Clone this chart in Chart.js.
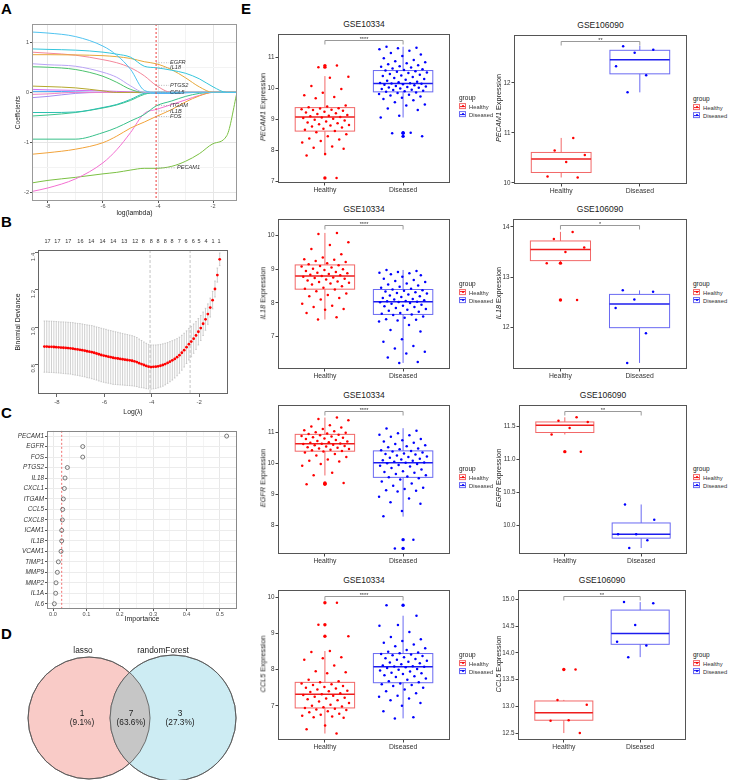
<!DOCTYPE html>
<html>
<head>
<meta charset="utf-8">
<script src="https://cdn.jsdelivr.net/npm/chart.js@4.4.0/dist/chart.umd.min.js"></script>
<style>
body{margin:0;width:729px;height:780px;position:relative;background:#fff;overflow:hidden;font-family:'Liberation Sans',Arial,Helvetica,sans-serif}
canvas{position:absolute}
.t{position:absolute;white-space:nowrap;color:#1a1a1a;line-height:1}
.key{display:inline-block;width:5px;height:4px;border:1px solid;position:relative;margin-right:3px;vertical-align:0}
.key i{position:absolute;left:0;right:0;top:1.5px;height:1px}
.key b{position:absolute;left:1.5px;top:1px;width:2px;height:2px;border-radius:1px}
</style>
</head>
<body>
<script>
// ---------- A: lasso coefficient paths ----------
const lamA = [-8.58, -8, -7, -6, -5.5, -5, -4.5, -4.07, -3.5, -3, -2.5, -2, -1.5, -1.13];
const pathG1 = [1.2, 1.18, 1.11, 0.92, 0.74, 0.46, 0.04, 0, 0, 0, 0, 0, 0, 0];
const pathIL18 = [0.865, 0.855, 0.84, 0.8, 0.76, 0.7, 0.52, 0.49, 0.44, 0.38, 0.27, 0.11, 0, 0];
const pathEGFR = [0.75, 0.75, 0.745, 0.73, 0.71, 0.675, 0.61, 0.57, 0.45, 0.29, 0.11, 0, 0, 0];
const pathPTGS2 = [0.8, 0.78, 0.74, 0.65, 0.59, 0.49, 0.33, 0.14, 0, 0, 0, 0, 0, 0];
const pathG5 = [0.57, 0.55, 0.52, 0.4, 0.3, 0.13, 0, 0, 0, 0, 0, 0, 0, 0];
const pathG6 = [0.51, 0.5, 0.455, 0.32, 0.2, 0.06, 0, 0, 0, 0, 0, 0, 0, 0];
const pathG7 = [0.125, 0.115, 0.09, 0.03, 0, 0, 0, 0, 0, 0, 0, 0, 0, 0];
const pathG8 = [0.06, 0.05, 0.04, 0.03, 0.02, 0.01, 0, 0, 0, 0, 0, 0, 0, 0];
const pathG9 = [-0.04, -0.03, 0, 0, 0, 0, 0, 0, 0, 0, 0, 0, 0, 0];
const pathG10 = [-0.105, -0.08, -0.02, 0, 0, 0, 0, 0, 0, 0, 0, 0, 0, 0];
const pathG11 = [-0.4, -0.4, -0.39, -0.3, -0.24, -0.14, -0.02, 0, 0, 0, 0, 0, 0, 0];
const pathG12 = [-0.47, -0.45, -0.4, -0.31, -0.25, -0.16, -0.04, 0, 0, 0, 0, 0, 0, 0];
const pathITGAM = [-0.93, -0.93, -0.93, -0.8, -0.7, -0.57, -0.44, -0.27, -0.17, -0.08, -0.02, 0, 0, 0];
const pathFOS = [-1.23, -1.2, -1.13, -1.0, -0.87, -0.71, -0.59, -0.48, -0.34, -0.19, -0.07, 0, 0, 0];
const pathIL1B = [-1.97, -1.9, -1.72, -1.4, -1.14, -0.8, -0.42, -0.34, -0.24, -0.15, -0.06, 0, 0, 0];
const pathPECAM1 = [-1.8, -1.75, -1.69, -1.62, -1.59, -1.545, -1.51, -1.51, -1.47, -1.37, -1.22, -1.02, -0.86, 0];
const pathCCL5 = [0.02, 0.02, 0.01, 0, 0, 0, -0.01, -0.02, -0.02, -0.01, 0, 0, 0, 0];
const aLabels = ['EGFR', 'IL18', 'PTGS2', 'CCL5', 'ITGAM', 'IL1B', 'FOS', 'PECAM1'];
const aLabelY = [0.59, 0.49, 0.14, 0.0, -0.26, -0.37, -0.48, -1.5];
const aLambdaMin = -4.07;

// ---------- B: cross-validation deviance ----------
const bLam = [-8.53,-8.43,-8.33,-8.23,-8.13,-8.03,-7.93,-7.83,-7.73,-7.63,-7.53,
  -7.43,-7.33,-7.23,-7.13,-7.03,-6.93,-6.83,-6.73,-6.63,-6.53,
  -6.43,-6.33,-6.23,-6.13,-6.03,-5.93,-5.83,-5.73,-5.63,-5.53,
  -5.43,-5.33,-5.23,-5.13,-5.03,-4.93,-4.83,-4.73,-4.63,-4.53,
  -4.43,-4.33,-4.23,-4.13,-4.03,-3.93,-3.83,-3.73,-3.63,-3.53,
  -3.43,-3.33,-3.23,-3.13,-3.03,-2.93,-2.83,-2.73,-2.63,-2.53,
  -2.43,-2.33,-2.23,-2.13,-2.03,-1.93,-1.83,-1.73,-1.63,-1.53,
  -1.43,-1.33,-1.23,-1.13];
const bDev = [.895,.895,.894,.894,.893,.892,.891,.890,.889,.888,.887,
  .886,.884,.882,.880,.878,.876,.873,.870,.868,.865,
  .862,.858,.854,.850,.847,.844,.841,.838,.835,.833,
  .831,.829,.827,.825,.823,.821,.819,.816,.812,.806,
  .801,.796,.791,.787,.785,.786,.787,.789,.792,.796,
  .801,.807,.814,.821,.829,.838,.849,.862,.876,.892,
  .908,.922,.938,.955,.975,.995,1.018,1.042,1.07,1.105,
  1.145,1.205,1.28,1.365];
const bSe = [.138,.138,.138,.138,.138,.138,.138,.138,.139,.139,.139,
  .139,.140,.140,.140,.141,.141,.141,.142,.142,.143,
  .143,.143,.144,.144,.144,.144,.143,.143,.143,.142,
  .141,.140,.139,.138,.137,.136,.135,.134,.132,.130,
  .127,.124,.122,.120,.119,.118,.117,.116,.115,.114,
  .112,.110,.108,.106,.103,.100,.097,.094,.091,.088,
  .085,.082,.079,.075,.071,.067,.063,.059,.055,.051,
  .047,.043,.038,.034];
const bTopLam = [-8.40,-7.98,-7.52,-7.01,-6.55,-6.08,-5.62,-5.16,-4.69,-4.36,-4.02,-3.73,-3.43,-3.14,-2.84,-2.55,-2.25,-2.0,-1.71,-1.41,-1.16];
const bTopCount = [17,17,17,16,14,14,14,13,12,8,8,8,8,8,7,6,6,5,4,1,1];
const bLamMin = -4.07;
const bLam1se = -2.38;

// ---------- C: random forest importance ----------
const cGenes = ['PECAM1','EGFR','FOS','PTGS2','IL18','CXCL1','ITGAM','CCL5','CXCL8','ICAM1','IL1B','VCAM1','TIMP1','MMP9','MMP2','IL1A','IL6'];
const cImportance = [0.52,0.089,0.089,0.043,0.036,0.034,0.031,0.029,0.028,0.026,0.026,0.024,0.016,0.013,0.009,0.008,0.004];
const cCut = 0.026;

// ---------- D: Venn ----------
const vennSets = ['lasso', 'randomForest'];
const vennCounts = [1, 7, 3];
const vennPct = ['9.1%', '63.6%', '27.3%'];

// ---------- E: expression box plots ----------
const eGenes = ['PECAM1', 'IL18', 'EGFR', 'CCL5'];
const eSets = ['GSE10334', 'GSE106090'];
const eGroups = ['Healthy', 'Diseased'];
const eSig10334 = ['****', '****', '****', '****'];
const eSig106090 = ['**', '*', '**', '**'];

const pecam10334H = [10.74,10.69,10.38,10.35,10.08,9.98,9.86,9.78,9.72,9.68,9.45,9.42,9.39,9.36,9.35,9.33,9.31,9.30,9.28,9.25,9.22,9.20,9.17,9.14,9.12,9.10,9.08,9.06,9.04,9.02,8.99,8.96,8.93,8.90,8.87,8.84,8.82,8.80,8.77,8.74,8.70,8.66,8.62,8.58,8.52,8.45,8.38,8.35,8.30,8.25,8.12,8.08,8.05,7.88,7.83,7.10];
const pecam10334D = [11.35,11.32,11.30,11.27,11.22,11.15,11.10,11.05,10.98,10.92,10.88,10.85,10.82,10.78,10.75,10.72,10.70,10.68,10.65,10.62,10.60,10.58,10.56,10.54,10.52,10.50,10.47,10.44,10.42,10.40,10.37,10.34,10.31,10.28,10.25,10.22,10.20,10.18,10.17,10.16,10.15,10.14,10.12,10.10,10.08,10.06,10.05,10.03,10.02,10.00,9.98,9.96,9.95,9.93,9.91,9.89,9.87,9.85,9.82,9.80,9.77,9.74,9.70,9.66,9.62,9.55,9.48,9.45,9.35,9.30,9.12,9.06,8.57,8.55,8.45];
const il18_10334H = [10.08,10.05,9.80,9.72,9.60,9.45,9.35,9.30,9.28,9.25,9.22,9.18,9.15,9.12,9.10,9.08,9.05,9.02,9.00,8.98,8.95,8.92,8.90,8.88,8.86,8.84,8.82,8.80,8.78,8.76,8.74,8.72,8.70,8.67,8.64,8.62,8.60,8.58,8.55,8.50,8.45,8.42,8.40,8.35,8.28,8.24,8.20,8.15,8.10,7.98,7.92,7.88,7.82,7.80,7.70,7.58,7.51];
const il18_10334D = [8.98,8.95,8.92,8.90,8.88,8.85,8.82,8.78,8.72,8.68,8.65,8.62,8.58,8.55,8.52,8.48,8.45,8.42,8.40,8.38,8.36,8.34,8.32,8.30,8.28,8.25,8.22,8.20,8.18,8.15,8.12,8.10,8.08,8.06,8.05,8.04,8.03,8.02,8.00,7.98,7.95,7.92,7.90,7.88,7.85,7.82,7.80,7.77,7.74,7.70,7.68,7.66,7.64,7.60,7.56,7.52,7.50,7.48,7.45,7.35,7.20,7.15,6.92,6.85,6.72,6.65,6.55,6.50,6.38,6.25,6.22];
const egfr10334H = [11.47,11.42,11.38,11.22,11.18,11.15,11.10,11.06,11.03,11.00,10.98,10.96,10.94,10.92,10.90,10.88,10.86,10.84,10.82,10.80,10.78,10.75,10.72,10.70,10.68,10.66,10.64,10.63,10.62,10.60,10.58,10.56,10.54,10.52,10.50,10.48,10.46,10.44,10.42,10.40,10.38,10.35,10.30,10.25,10.20,10.12,10.08,10.06,9.98,9.92,9.70,9.62,9.37,9.35,9.33];
const egfr10334D = [11.12,11.05,10.97,10.92,10.90,10.85,10.78,10.74,10.70,10.66,10.62,10.58,10.55,10.52,10.48,10.45,10.42,10.40,10.38,10.35,10.32,10.30,10.28,10.25,10.22,10.20,10.18,10.15,10.12,10.10,10.08,10.05,10.03,10.02,10.00,9.98,9.95,9.92,9.90,9.85,9.80,9.75,9.72,9.70,9.66,9.62,9.58,9.55,9.52,9.48,9.42,9.35,9.28,9.22,9.18,9.14,9.12,9.10,8.93,8.87,8.75,8.70,8.47,8.30,7.55,7.27];
const ccl5_10334H = [9.86,9.25,8.93,8.52,8.49,8.35,8.32,8.28,8.12,7.96,7.93,7.90,7.72,7.68,7.65,7.62,7.60,7.58,7.55,7.52,7.50,7.48,7.45,7.42,7.40,7.38,7.35,7.32,7.30,7.28,7.25,7.22,7.20,7.18,7.15,7.12,7.08,7.03,7.00,6.98,6.96,6.94,6.92,6.90,6.88,6.85,6.82,6.78,6.75,6.72,6.70,6.68,6.67,6.45,6.35,6.23];
const ccl5_10334D = [9.79,9.50,9.24,9.22,9.05,8.91,8.85,8.80,8.75,8.70,8.65,8.60,8.55,8.50,8.48,8.46,8.44,8.42,8.40,8.38,8.35,8.32,8.30,8.28,8.25,8.22,8.20,8.18,8.15,8.12,8.10,8.09,8.08,8.07,8.05,8.02,8.00,7.98,7.95,7.92,7.90,7.88,7.85,7.82,7.80,7.76,7.72,7.68,7.65,7.62,7.60,7.58,7.55,7.50,7.45,7.40,7.35,7.28,7.25,7.20,7.15,7.08,7.00,6.85,6.68,6.65];

const pecam106090H = [10.90,10.65,10.56,10.42,10.13,10.11];
const pecam106090D = [12.73,12.66,12.60,12.33,12.15,11.81];
const il18_106090H = [13.90,13.76,13.59,13.50,13.28,12.55];
const il18_106090D = [12.74,12.71,12.56,12.39,11.89,11.30];
const egfr106090H = [11.64,11.59,11.57,11.48,11.38,11.12];
const egfr106090D = [10.32,10.09,9.87,9.87,9.78,9.66];
const ccl5_106090H = [13.69,13.12,13.03,12.74,12.73,12.50];
const ccl5_106090D = [14.95,14.93,14.52,14.21,14.14,13.92];

// box stats: [lower whisker, Q1, median, Q3, upper whisker]
const statPecam10334 = [[7.83,8.62,9.08,9.38,10.40],[9.06,9.89,10.16,10.58,11.35]];
const statIl18_10334 = [[7.51,8.41,8.80,9.13,10.08],[6.22,7.66,8.04,8.40,8.98]];
const statEgfr10334 = [[9.61,10.39,10.63,10.93,11.47],[8.29,9.55,10.02,10.40,11.13]];
const statCcl5_10334 = [[6.23,6.94,7.32,7.65,8.52],[6.65,7.64,8.08,8.45,9.50]];
const statPecam106090 = [[10.11,10.21,10.48,10.61,10.90],[11.81,12.18,12.46,12.65,12.74]];
const statIl18_106090 = [[13.29,13.33,13.55,13.72,13.90],[11.30,12.00,12.47,12.66,12.74]];
const statEgfr106090 = [[11.38,11.41,11.52,11.57,11.64],[9.66,9.81,9.87,10.04,10.32]];
const statCcl5_106090 = [[12.50,12.74,12.88,13.10,13.12],[13.92,14.16,14.36,14.80,14.95]];

// ---------- setup ----------
const FONT = "'Liberation Sans', Arial, Helvetica, sans-serif";
Chart.defaults.font.family = FONT;
Chart.defaults.color = '#4d4d4d';
Chart.defaults.animation = false;
Chart.defaults.responsive = false;
Chart.defaults.plugins.legend.display = false;
Chart.defaults.plugins.tooltip.enabled = false;

Chart.register({
  id: 'panelBox',
  afterDraw(chart, args, opts) {
    if (!opts.color) return;
    const a = chart.chartArea, ctx = chart.ctx;
    ctx.save();
    ctx.strokeStyle = opts.color;
    ctx.lineWidth = 1;
    ctx.strokeRect(Math.round(a.left) + 0.5, Math.round(a.top) + 0.5, Math.round(a.right - a.left) - 1, Math.round(a.bottom - a.top) - 1);
    ctx.restore();
  }
});

function mk(box, area) {
  const c = document.createElement('canvas');
  c.width = box.w; c.height = box.h;
  c.style.left = box.x + 'px'; c.style.top = box.y + 'px';
  c.style.width = box.w + 'px'; c.style.height = box.h + 'px';
  document.body.appendChild(c);
  return {
    el: c,
    pad: {left: 0, top: area.t - box.y, right: box.x + box.w - area.r, bottom: 0},
    yw: area.l - box.x,
    xh: box.y + box.h - area.b
  };
}

function put(html, x, y, css, tf) {
  const d = document.createElement('div');
  d.className = 't';
  d.innerHTML = html;
  d.style.cssText += css || '';
  d.style.left = x + 'px';
  d.style.top = y + 'px';
  d.style.transform = tf || 'translate(-50%,-50%)';
  document.body.appendChild(d);
  return d;
}

function seg(ctx, x1, y1, x2, y2) {
  ctx.beginPath(); ctx.moveTo(x1, y1); ctx.lineTo(x2, y2); ctx.stroke();
}

// panel letters
const letterCss = 'font-size:15px;font-weight:bold;color:#000';
put('A', 1, 1, letterCss, 'none');
put('B', 1, 214, letterCss, 'none');
put('C', 1, 405, letterCss, 'none');
put('D', 1, 626, letterCss, 'none');
put('E', 241, 1, letterCss, 'none');

// ---------- A ----------
const pathsA = [
  [pathG1, '#4fc3f0'], [pathIL18, '#35c6dc'], [pathEGFR, '#e7a83a'], [pathPTGS2, '#f4869a'],
  [pathG5, '#b9a3f5'], [pathG6, '#4cc26e'], [pathG7, '#b5a72b'], [pathG8, '#d26cf0'],
  [pathG9, '#f080c8'], [pathG10, '#a58cf0'], [pathG11, '#2bbfb0'], [pathG12, '#3cc48d'],
  [pathITGAM, '#38c08a'], [pathFOS, '#f2a33a'], [pathIL1B, '#f36fd1'], [pathPECAM1, '#7bc043'],
  [pathCCL5, '#3fa9f5']
];
const fa = mk({x: 0, y: 16, w: 240, h: 205}, {l: 32, t: 24, r: 237, b: 201});
new Chart(fa.el, {
  type: 'line',
  data: {
    datasets: pathsA.map(([vals, col]) => ({
      data: lamA.map((x, i) => ({x: x, y: vals[i]})),
      borderColor: col, borderWidth: 1, pointRadius: 0, cubicInterpolationMode: 'monotone', fill: false
    }))
  },
  options: {
    layout: {padding: fa.pad, autoPadding: false},
    scales: {
      x: {
        type: 'linear', min: -8.58, max: -1.13,
        afterFit: s => { s.height = fa.xh; },
        ticks: {stepSize: 1, includeBounds: false, callback: v => (v % 2 === 0 ? v : ''), font: {size: 5.5}, padding: 0, maxRotation: 0, autoSkip: false},
        grid: {color: c => (c.tick && c.tick.value % 2 === 0 ? '#e6e6e6' : '#f3f3f3'), tickColor: c => (c.tick && c.tick.value % 2 === 0 ? '#555' : 'rgba(0,0,0,0)'), tickLength: 2},
        border: {display: false},
        title: {display: true, text: 'log(lambda)', font: {size: 6.8}, color: '#1a1a1a', padding: {top: 0, bottom: 4}}
      },
      y: {
        min: -2.16, max: 1.36,
        afterFit: s => { s.width = fa.yw; },
        ticks: {stepSize: 0.5, includeBounds: false, callback: v => (Number.isInteger(v) ? v : ''), font: {size: 5.5}, padding: 1},
        grid: {color: c => (c.tick && Number.isInteger(c.tick.value) ? '#e6e6e6' : '#f3f3f3'), tickColor: c => (c.tick && Number.isInteger(c.tick.value) ? '#555' : 'rgba(0,0,0,0)'), tickLength: 2},
        border: {display: false},
        title: {display: true, text: 'Coefficients', font: {size: 6.3}, color: '#1a1a1a', padding: {top: 14, bottom: 0}}
      }
    },
    plugins: {panelBox: {color: '#999'}}
  },
  plugins: [{
    id: 'aLabels',
    afterDatasetsDraw(ch) {
      const {ctx, scales: {x, y}, chartArea: a} = ch;
      const x0 = x.getPixelForValue(aLambdaMin);
      ctx.save();
      ctx.strokeStyle = '#ee3b3b'; ctx.lineWidth = 1; ctx.setLineDash([2, 2]);
      seg(ctx, x0, a.top, x0, a.bottom);
      ctx.strokeStyle = '#9a9a9a'; ctx.setLineDash([1, 1.5]); ctx.lineWidth = 0.7;
      ctx.font = 'italic 5.6px ' + FONT;
      ctx.fillStyle = '#333'; ctx.textBaseline = 'middle';
      aLabels.forEach((g, i) => {
        const py = y.getPixelForValue(aLabelY[i]);
        const len = g === 'PECAM1' ? 20 : 13;
        seg(ctx, x0, py, x0 + len, py);
        ctx.fillText(g, x0 + len + 1, py);
      });
      ctx.restore();
    }
  }]
});

// ---------- B ----------
const fb = mk({x: 0, y: 234, w: 240, h: 186}, {l: 38, t: 250, r: 228, b: 394});
new Chart(fb.el, {
  type: 'scatter',
  data: {datasets: [{data: bLam.map((x, i) => ({x: x, y: bDev[i]})), backgroundColor: '#ff0000', borderWidth: 0, pointRadius: 1.4}]},
  options: {
    layout: {padding: {left: 0, top: 0, right: fb.pad.right, bottom: 0}, autoPadding: false},
    scales: {
      x: {
        type: 'linear', min: -8.8, max: -0.78,
        afterFit: s => { s.height = fb.xh; },
        ticks: {stepSize: 2, includeBounds: false, font: {size: 6}, padding: 2, maxRotation: 0},
        grid: {drawOnChartArea: false, tickLength: 3, color: '#666'},
        border: {display: false},
        title: {display: true, text: 'Log(\u03bb)', font: {size: 6.8}, color: '#1a1a1a', padding: {top: 0, bottom: 4}}
      },
      x2: {
        type: 'linear', position: 'top', min: -8.8, max: -0.78,
        afterFit: s => { s.height = 16; },
        afterBuildTicks: s => { s.ticks = bTopLam.map(v => ({value: v})); },
        ticks: {callback: (v, i) => bTopCount[i], font: {size: 5.5}, color: '#333', padding: 5, maxRotation: 0, autoSkip: false},
        grid: {display: false, drawTicks: false, tickLength: 0},
        border: {display: false}
      },
      y: {
        min: 0.64, max: 1.415,
        afterFit: s => { s.width = fb.yw; },
        ticks: {stepSize: 0.2, includeBounds: false, callback: v => v.toFixed(1), font: {size: 6}, padding: 2, minRotation: 90, maxRotation: 90},
        grid: {drawOnChartArea: false, tickLength: 3, color: '#666'},
        border: {display: false},
        title: {display: true, text: 'Binomial Deviance', font: {size: 6.9}, color: '#1a1a1a', padding: {top: 14, bottom: 0}}
      }
    },
    plugins: {panelBox: {color: '#666'}}
  },
  plugins: [{
    id: 'bErr',
    beforeDatasetsDraw(ch) {
      const {ctx, scales: {x, y}, chartArea: a} = ch;
      ctx.save();
      ctx.strokeStyle = '#aaa'; ctx.lineWidth = 0.7; ctx.setLineDash([3, 2]);
      [bLamMin, bLam1se].forEach(v => { const px = x.getPixelForValue(v); seg(ctx, px, a.top, px, a.bottom); });
      ctx.setLineDash([]);
      ctx.strokeStyle = '#b0b0b0'; ctx.lineWidth = 0.6;
      bLam.forEach((lv, i) => {
        const px = x.getPixelForValue(lv);
        const hi = y.getPixelForValue(bDev[i] + bSe[i]);
        const lo = y.getPixelForValue(bDev[i] - bSe[i]);
        seg(ctx, px, hi, px, lo);
        seg(ctx, px - 0.8, hi, px + 0.8, hi);
        seg(ctx, px - 0.8, lo, px + 0.8, lo);
      });
      ctx.restore();
    }
  }]
});

// ---------- C ----------
const fc = mk({x: 0, y: 426, w: 240, h: 200}, {l: 47, t: 430, r: 237, b: 609});
new Chart(fc.el, {
  type: 'scatter',
  data: {datasets: [{
    data: cGenes.map((g, i) => ({x: cImportance[i], y: g})),
    backgroundColor: 'rgba(0,0,0,0)', borderColor: '#444', borderWidth: 0.7, pointRadius: 2
  }]},
  options: {
    layout: {padding: fc.pad, autoPadding: false},
    scales: {
      x: {
        type: 'linear', min: -0.018, max: 0.551,
        afterFit: s => { s.height = fc.xh; },
        ticks: {stepSize: 0.05, includeBounds: false, callback: v => (Math.round(v * 100) % 10 === 0 ? v.toFixed(1) : ''), font: {size: 5.6}, padding: 0, maxRotation: 0, autoSkip: false},
        grid: {color: c => (c.tick && Math.round(c.tick.value * 100) % 10 === 0 ? '#e8e8e8' : '#f4f4f4'), tickColor: c => (c.tick && Math.round(c.tick.value * 100) % 10 === 0 ? '#555' : 'rgba(0,0,0,0)'), tickLength: 2},
        border: {display: false},
        title: {display: true, text: 'Importance', font: {size: 7}, color: '#1a1a1a', padding: {top: 0, bottom: 3}}
      },
      y: {
        type: 'category', labels: cGenes, offset: true,
        afterFit: s => { s.width = fc.yw; },
        ticks: {font: {size: 6.4, style: 'italic'}, color: '#333', padding: 1, autoSkip: false},
        grid: {color: '#ececec', tickColor: '#555', tickLength: 2},
        border: {display: false}
      }
    },
    plugins: {panelBox: {color: '#888'}}
  },
  plugins: [{
    id: 'cCut',
    beforeDatasetsDraw(ch) {
      const {ctx, scales: {x}, chartArea: a} = ch;
      const px = x.getPixelForValue(cCut);
      ctx.save();
      ctx.strokeStyle = '#f07070'; ctx.lineWidth = 1; ctx.setLineDash([2, 2]);
      seg(ctx, px, a.top, px, a.bottom);
      ctx.restore();
    }
  }]
});

// ---------- D ----------
const fd = mk({x: 0, y: 640, w: 240, h: 140}, {l: 0, t: 656, r: 240, b: 780});
new Chart(fd.el, {
  type: 'scatter',
  data: {datasets: [{
    data: vennSets.map((s, i) => ({x: i, y: 0})),
    backgroundColor: ['#f9cbc7', '#cdecf3'], borderColor: '#555', borderWidth: 0.8,
    pointRadius: [61, 63], clip: false
  }]},
  options: {
    layout: {padding: fd.pad, autoPadding: false},
    scales: {
      x: {type: 'linear', min: -1.06, max: 1.797, display: false},
      y: {type: 'linear', min: -1, max: 1, display: false}
    }
  },
  plugins: [{
    id: 'venn',
    afterDatasetsDraw(ch) {
      const {ctx, scales: {x, y}, chartArea: a} = ch;
      const c0 = [x.getPixelForValue(0), y.getPixelForValue(0), 61];
      const c1 = [x.getPixelForValue(1), y.getPixelForValue(0), 63];
      ctx.save();
      ctx.beginPath(); ctx.arc(c0[0], c0[1], c0[2], 0, Math.PI * 2); ctx.clip();
      ctx.beginPath(); ctx.arc(c1[0], c1[1], c1[2], 0, Math.PI * 2);
      ctx.fillStyle = '#c6c6c6'; ctx.fill();
      ctx.restore();
      ctx.save();
      ctx.strokeStyle = '#555'; ctx.lineWidth = 0.8;
      [c0, c1].forEach(c => { ctx.beginPath(); ctx.arc(c[0], c[1], c[2], 0, Math.PI * 2); ctx.stroke(); });
      ctx.fillStyle = '#222'; ctx.textAlign = 'center'; ctx.textBaseline = 'middle';
      ctx.font = '8.3px ' + FONT;
      ctx.fillText(vennSets[0], c0[0] - 6, a.top - 5);
      ctx.fillText(vennSets[1], c1[0] - 10, a.top - 5);
      const cx = [c0[0] - 7, (c0[0] + c1[0]) / 2, c1[0] + 7];
      cx.forEach((px, i) => {
        ctx.fillText(String(vennCounts[i]), px, c0[1] - 4);
        ctx.fillText('(' + vennPct[i] + ')', px, c0[1] + 5);
      });
      ctx.restore();
    }
  }]
});

// ---------- E ----------
const eCol = ['#ff0000', '#0000ff'];
const eBoxCol = ['#f26868', '#6a6af2'];
const eMedCol = ['#ee1c1c', '#1c1cee'];
const jit = (i, s) => (((i + 1) * 0.618034 + s) % 1 - 0.5) * 0.62;

function boxChart(box, area, vals, stats, yr, sig) {
  const f = mk(box, area);
  new Chart(f.el, {
    type: 'scatter',
    data: {datasets: vals.map((vs, g) => ({
      data: vs.map((v, i) => ({x: g + 1 + jit(i, 0.13 + g * 0.41), y: v})),
      backgroundColor: eCol[g], borderWidth: 0, pointRadius: 1.25
    }))},
    options: {
      layout: {padding: f.pad, autoPadding: false},
      scales: {
        x: {
          type: 'linear', min: 0.4, max: 2.6,
          afterFit: s => { s.height = f.xh; },
          afterBuildTicks: s => { s.ticks = [{value: 1}, {value: 2}]; },
          ticks: {callback: v => eGroups[v - 1], font: {size: 6.8}, color: '#333', padding: 1, maxRotation: 0, autoSkip: false},
          grid: {drawOnChartArea: false, tickLength: 2.5, color: '#444'},
          border: {display: false}
        },
        y: {
          min: yr[0], max: yr[1],
          afterFit: s => { s.width = f.yw; },
          ticks: {stepSize: yr[2], includeBounds: false, callback: v => v.toFixed(yr[3]), font: {size: 6.3}, color: '#333', padding: 1},
          grid: {drawOnChartArea: false, tickLength: 2.5, color: '#444'},
          border: {display: false}
        }
      },
      plugins: {panelBox: {color: '#555'}}
    },
    plugins: [{
      id: 'boxes',
      beforeDatasetsDraw(ch) {
        const {ctx, scales: {x, y}, chartArea: a} = ch;
        ctx.save();
        stats.forEach((st, g) => {
          const cx = x.getPixelForValue(g + 1);
          const hw = x.getPixelForValue(g + 1 + 0.38) - cx;
          const [lo, q1, md, q3, hi] = st.map(v => y.getPixelForValue(v));
          ctx.strokeStyle = eBoxCol[g]; ctx.lineWidth = 1;
          seg(ctx, cx, hi, cx, q3);
          seg(ctx, cx, q1, cx, lo);
          ctx.strokeRect(cx - hw, q3, hw * 2, q1 - q3);
          ctx.strokeStyle = eMedCol[g]; ctx.lineWidth = 1.5;
          seg(ctx, cx - hw, md, cx + hw, md);
          ctx.fillStyle = eCol[g];
          vals[g].forEach(v => {
            if (v < st[0] - 1e-6 || v > st[4] + 1e-6) {
              ctx.beginPath(); ctx.arc(cx, y.getPixelForValue(v), 1.7, 0, Math.PI * 2); ctx.fill();
            }
          });
        });
        // significance bracket
        const x1 = x.getPixelForValue(1), x2 = x.getPixelForValue(2);
        const by = Math.round(a.top + 6) + 0.5;
        ctx.strokeStyle = '#999'; ctx.lineWidth = 1;
        ctx.beginPath(); ctx.moveTo(x1, by + 4); ctx.lineTo(x1, by); ctx.lineTo(x2, by); ctx.lineTo(x2, by + 4); ctx.stroke();
        ctx.fillStyle = '#333'; ctx.font = '5.5px ' + FONT;
        ctx.textAlign = 'center'; ctx.textBaseline = 'alphabetic';
        ctx.fillText(sig, (x1 + x2) / 2, by + 0.5);
        ctx.restore();
      }
    }]
  });
}

function legendE(x, yc) {
  put('group', x, yc - 9, 'font-size:6.5px;color:#1a1a1a', 'translate(0,-50%)');
  eGroups.forEach((g, i) => {
    put('<span class="key" style="border-color:' + eBoxCol[i] + '"><i style="background:' + eMedCol[i] + '"></i><b style="background:' + eCol[i] + '"></b></span>' + g,
      x, yc + i * 8, 'font-size:5.8px;color:#333', 'translate(0,-50%)');
  });
}

const leftAreas = [{l: 278, t: 31, r: 450, b: 183}, {l: 278, t: 216, r: 450, b: 369}, {l: 278, t: 402, r: 450, b: 554}, {l: 278, t: 587, r: 450, b: 740}];
const rightAreas = [{l: 514, t: 32, r: 687, b: 184}, {l: 513, t: 216, r: 687, b: 369}, {l: 519, t: 402, r: 687, b: 554}, {l: 518, t: 587, r: 686, b: 740}];
const leftY = [[6.94, 11.77, 1, 0], [6.04, 10.5, 1, 0], [7.09, 11.88, 1, 0], [6.05, 10.22, 1, 0]];
const rightY = [[9.98, 12.96, 1, 0], [11.18, 14.16, 1, 0], [9.57, 11.83, 0.5, 1], [12.37, 15.18, 0.5, 1]];
const leftVals = [[pecam10334H, pecam10334D], [il18_10334H, il18_10334D], [egfr10334H, egfr10334D], [ccl5_10334H, ccl5_10334D]];
const rightVals = [[pecam106090H, pecam106090D], [il18_106090H, il18_106090D], [egfr106090H, egfr106090D], [ccl5_106090H, ccl5_106090D]];
const leftStats = [statPecam10334, statIl18_10334, statEgfr10334, statCcl5_10334];
const rightStats = [statPecam106090, statIl18_106090, statEgfr106090, statCcl5_106090];

eGenes.forEach((gene, r) => {
  const la = leftAreas[r], ra = rightAreas[r];
  boxChart({x: 250, y: la.t - 2, w: 202, h: la.b - la.t + 18}, la, leftVals[r], leftStats[r], leftY[r], eSig10334[r]);
  boxChart({x: 490, y: ra.t - 2, w: 200, h: ra.b - ra.t + 18}, ra, rightVals[r], rightStats[r], rightY[r], eSig106090[r]);
  put(eSets[0], (la.l + la.r) / 2, la.t - 7, 'font-size:8.5px;color:#1a1a1a');
  put(eSets[1], (ra.l + ra.r) / 2, ra.t - 7, 'font-size:8.5px;color:#1a1a1a');
  put('<i>' + gene + '</i> Expression', 263, (la.t + la.b) / 2, 'font-size:7.3px;color:#1a1a1a', 'translate(-50%,-50%) rotate(-90deg)');
  put('<i>' + gene + '</i> Expression', 499, (ra.t + ra.b) / 2, 'font-size:7.3px;color:#1a1a1a', 'translate(-50%,-50%) rotate(-90deg)');
  legendE(459, (la.t + la.b) / 2);
  legendE(693, (ra.t + ra.b) / 2);
});
</script>
</body>
</html>
